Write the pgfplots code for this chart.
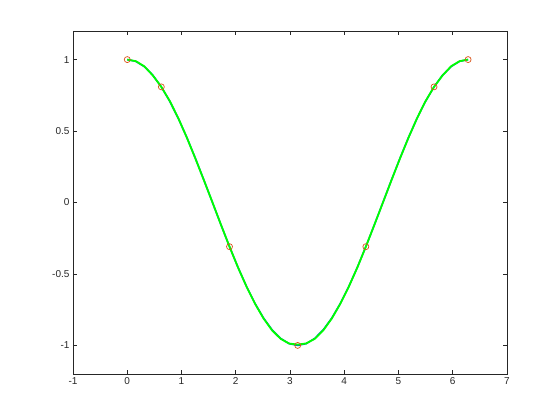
\documentclass[border=0pt]{standalone}
\usepackage{pgfplots}
\pgfplotsset{compat=1.18}
\usepackage{pgfplotstable}
\usepackage{fontspec}
\setmainfont{Liberation Sans}
\definecolor{octblue}{rgb}{0,0.447,0.741}
\definecolor{octred}{rgb}{0.85,0.325,0.098}
\definecolor{axgray}{rgb}{0.15,0.15,0.15}
\pgfplotstableread{
x y
0.0000 1.0000
0.1571 0.9877
0.3142 0.9511
0.4712 0.8910
0.6283 0.8090
0.7854 0.7071
0.9425 0.5878
1.0996 0.4540
1.2566 0.3090
1.4137 0.1564
1.5708 0.0000
1.7279 -0.1564
1.8850 -0.3090
2.0420 -0.4540
2.1991 -0.5878
2.3562 -0.7071
2.5133 -0.8090
2.6704 -0.8910
2.8274 -0.9511
2.9845 -0.9877
3.1416 -1.0000
3.2987 -0.9877
3.4558 -0.9511
3.6128 -0.8910
3.7699 -0.8090
3.9270 -0.7071
4.0841 -0.5878
4.2412 -0.4540
4.3982 -0.3090
4.5553 -0.1564
4.7124 0.0000
4.8695 0.1564
5.0265 0.3090
5.1836 0.4540
5.3407 0.5878
5.4978 0.7071
5.6549 0.8090
5.8119 0.8910
5.9690 0.9511
6.1261 0.9877
6.2832 1.0000
}\bluedata
\pgfplotstableread{
x y
0.0000 1.0000
0.1571 0.9890
0.3142 0.9530
0.4712 0.8890
0.6283 0.8090
0.7854 0.7090
0.9425 0.5890
1.0996 0.4530
1.2566 0.3070
1.4137 0.1550
1.5708 0.0010
1.7279 -0.1560
1.8850 -0.3090
2.0420 -0.4550
2.1991 -0.5890
2.3562 -0.7090
2.5133 -0.8120
2.6704 -0.8950
2.8274 -0.9540
2.9845 -0.9870
3.1416 -0.9940
3.2987 -0.9860
3.4558 -0.9540
3.6128 -0.8950
3.7699 -0.8120
3.9270 -0.7090
4.0841 -0.5890
4.2412 -0.4550
4.3982 -0.3090
4.5553 -0.1560
4.7124 -0.0010
4.8695 0.1550
5.0265 0.3070
5.1836 0.4530
5.3407 0.5890
5.4978 0.7090
5.6549 0.8090
5.8119 0.8890
5.9690 0.9530
6.1261 0.9890
6.2832 1.0000
}\greendata
\pgfplotstableread{
x y
0.0000 1.0000
0.6283 0.8090
1.8850 -0.3090
3.1416 -1.0000
4.3982 -0.3090
5.6549 0.8090
6.2832 1.0000
}\reddata
\begin{document}
\begin{tikzpicture}[x=1pt,y=1pt]
\begin{axis}[
  at={(0pt,0pt)}, anchor=south west,
  scale only axis, width=434pt, height=343pt,
  xmin=-1, xmax=7, ymin=-1.2, ymax=1.2,
  xtick={-1,0,...,7},
  ytick={-1,-0.5,0,0.5,1},
  yticklabels={-1,-0.5,0,0.5,1},
  xticklabels={-1,0,1,2,3,4,5,6,7},
  tick align=inside, major tick length=4pt,
  axis line style={axgray, line width=0.6pt},
  every tick/.style={axgray, line width=0.6pt},
  tick label style={font=\fontsize{10}{12}\selectfont, text=axgray},
  xtick pos=both, ytick pos=both,
  minor tick num=0,
]
\addplot[octblue, line width=1.6pt] table[x=x,y=y] {\bluedata};
\addplot[green, line width=1.8pt] table[x=x,y=y] {\greendata};
\addplot[only marks, mark=o, mark size=3pt, octred, mark options={line width=0.7pt}] table[x=x,y=y] {\reddata};
\end{axis}
\pgfresetboundingbox
\path (-73pt,-46pt) rectangle (487pt,374pt);
\end{tikzpicture}
\end{document}
